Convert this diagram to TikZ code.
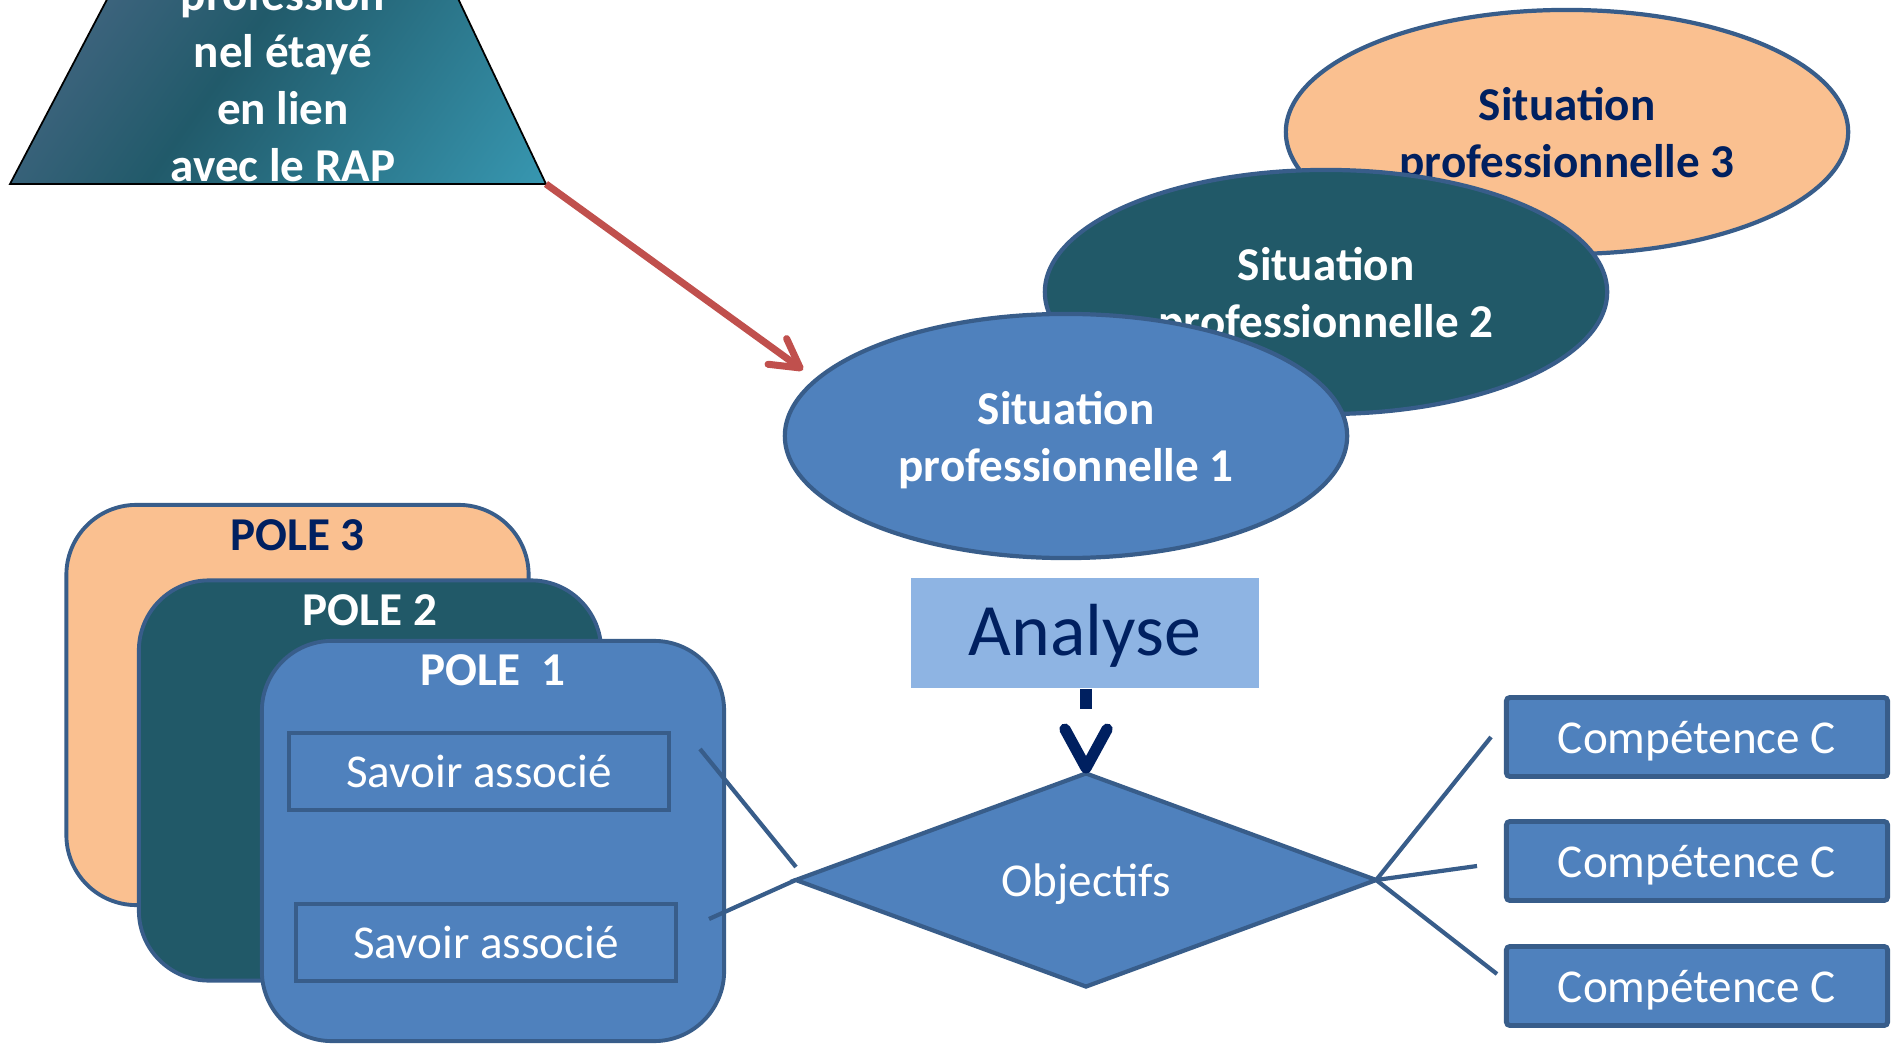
\documentclass[tikz,border=0pt]{standalone}
\usepackage{fontspec}
\setmainfont{Carlito}
\usetikzlibrary{shapes.geometric,arrows.meta,positioning}
\definecolor{peche}{HTML}{FAC090}
\definecolor{canard}{HTML}{215968}
\definecolor{bleu}{HTML}{4F81BD}
\definecolor{bord}{HTML}{385D8A}
\definecolor{marine}{HTML}{002060}
\definecolor{ciel}{HTML}{8EB4E3}
\definecolor{rouge}{HTML}{C0504D}
\definecolor{ardoise}{HTML}{566C8E}
\definecolor{sombre}{HTML}{215A6A}
\definecolor{turquoise}{HTML}{3A9FBA}
\pgfdeclarehorizontalshading{vecu}{100bp}{color(0bp)=(ardoise); color(12bp)=(ardoise); color(45bp)=(sombre); color(90bp)=(turquoise); color(100bp)=(turquoise)}
\tikzset{
  situ/.style={ellipse, draw=bord, line width=1.2pt, minimum width=5.62cm, minimum height=2.44cm, align=center, text depth=0pt, font=\bfseries},
  pole/.style={draw=bord, line width=1.1pt, rounded corners=0.7cm, minimum width=4.62cm, minimum height=4cm},
  polelbl/.style={inner sep=0pt, font=\bfseries},
  savoir/.style={draw=bord, fill=bleu, line width=1.3pt, text=white, minimum width=3.8cm, minimum height=0.77cm},
  comp/.style={draw=bord, fill=bleu, line width=1.4pt, rounded corners=1pt, text=white, text depth=0pt, minimum width=3.81cm, minimum height=0.79cm},
  lien/.style={draw=bord, line width=1.2pt},
}
\begin{document}
\fontsize{13.4}{16.2}\selectfont
\begin{tikzpicture}[x=0.01cm, y=-0.01cm]
\useasboundingbox (0,0) rectangle (1903,1049);
\clip (0,0) rectangle (1903,1049);
% trapeze du haut
\shade[draw=black, line width=0.5pt, shading=vecu, shading angle=-35]
  (10,184) -- (133,-50) -- (435,-50) -- (546,184) -- cycle;
\coordinate (trap) at (546,184);
\node[text=white, font=\bfseries, align=center] (vecu) at (283,80) {profession\\nel étayé\\en lien\\avec le RAP};
% situations
\node[situ, fill=peche, text=marine] (s3) at (1567,132) {Situation\\professionnelle 3};
\node[situ, fill=canard, text=white] (s2) at (1326,292) {Situation\\professionnelle 2};
\node[situ, fill=bleu, text=white] (s1) at (1066,436) {Situation\\professionnelle 1};
\coordinate (pointe) at (803,370);
\draw[rouge, line width=2pt, -{Straight Barb[length=8pt,width=9pt,round]}] (trap) -- (pointe);
% analyse et objectifs
\node[fill=ciel, text=marine, minimum width=3.48cm, minimum height=1.1cm, text depth=2pt, font=\fontsize{21}{25}\selectfont] (ana) at (1085,633) {Analyse};
\node[diamond, draw=bord, fill=bleu, line width=1.2pt, text=white, text depth=0pt, minimum width=5.8cm, minimum height=2.13cm, inner sep=0pt, outer sep=0pt, aspect=2.7] (obj) at (1086,880) {Objectifs};
\draw[marine, line width=3.2pt, dash pattern=on 0.2cm off 3cm, -{Straight Barb[length=11pt,width=12pt,round]}] (ana.south -| obj.north) -- (obj.north);
% poles
\node[pole, fill=peche] (p3) at (297.5,705) {};
\node[polelbl, text=marine, below=0.16cm of p3.north] (l3) {POLE 3};
\node[pole, fill=canard] (p2) at (370,780.5) {};
\node[polelbl, text=white, below=0.15cm of p2.north] (l2) {POLE 2};
\node[pole, fill=bleu] (p1) at (493,841) {};
\node[polelbl, text=white, below=0.15cm of p1.north] (l1) {POLE~~1};
\node[savoir] (sa1) at (479,771.5) {Savoir associé};
\node[savoir] (sa2) at (486,942.5) {Savoir associé};
% competences
\foreach \y/\n in {737/c1, 861/c2, 986/c3}
  \node[comp] (\n) at (1697,\y) {Compétence C};
% traits
\coordinate (ga) at (700,749);
\coordinate (gb) at (796,867);
\coordinate (gc) at (709,919);
\coordinate (da) at (1491,737);
\coordinate (db) at (1477,866);
\coordinate (dc) at (1497,974);
\draw[lien] (ga) -- (gb);
\draw[lien] (gc) -- (obj.west);
\draw[lien] (obj.east) -- (da);
\draw[lien] (obj.east) -- (db);
\draw[lien] (obj.east) -- (dc);
\end{tikzpicture}
\end{document}
